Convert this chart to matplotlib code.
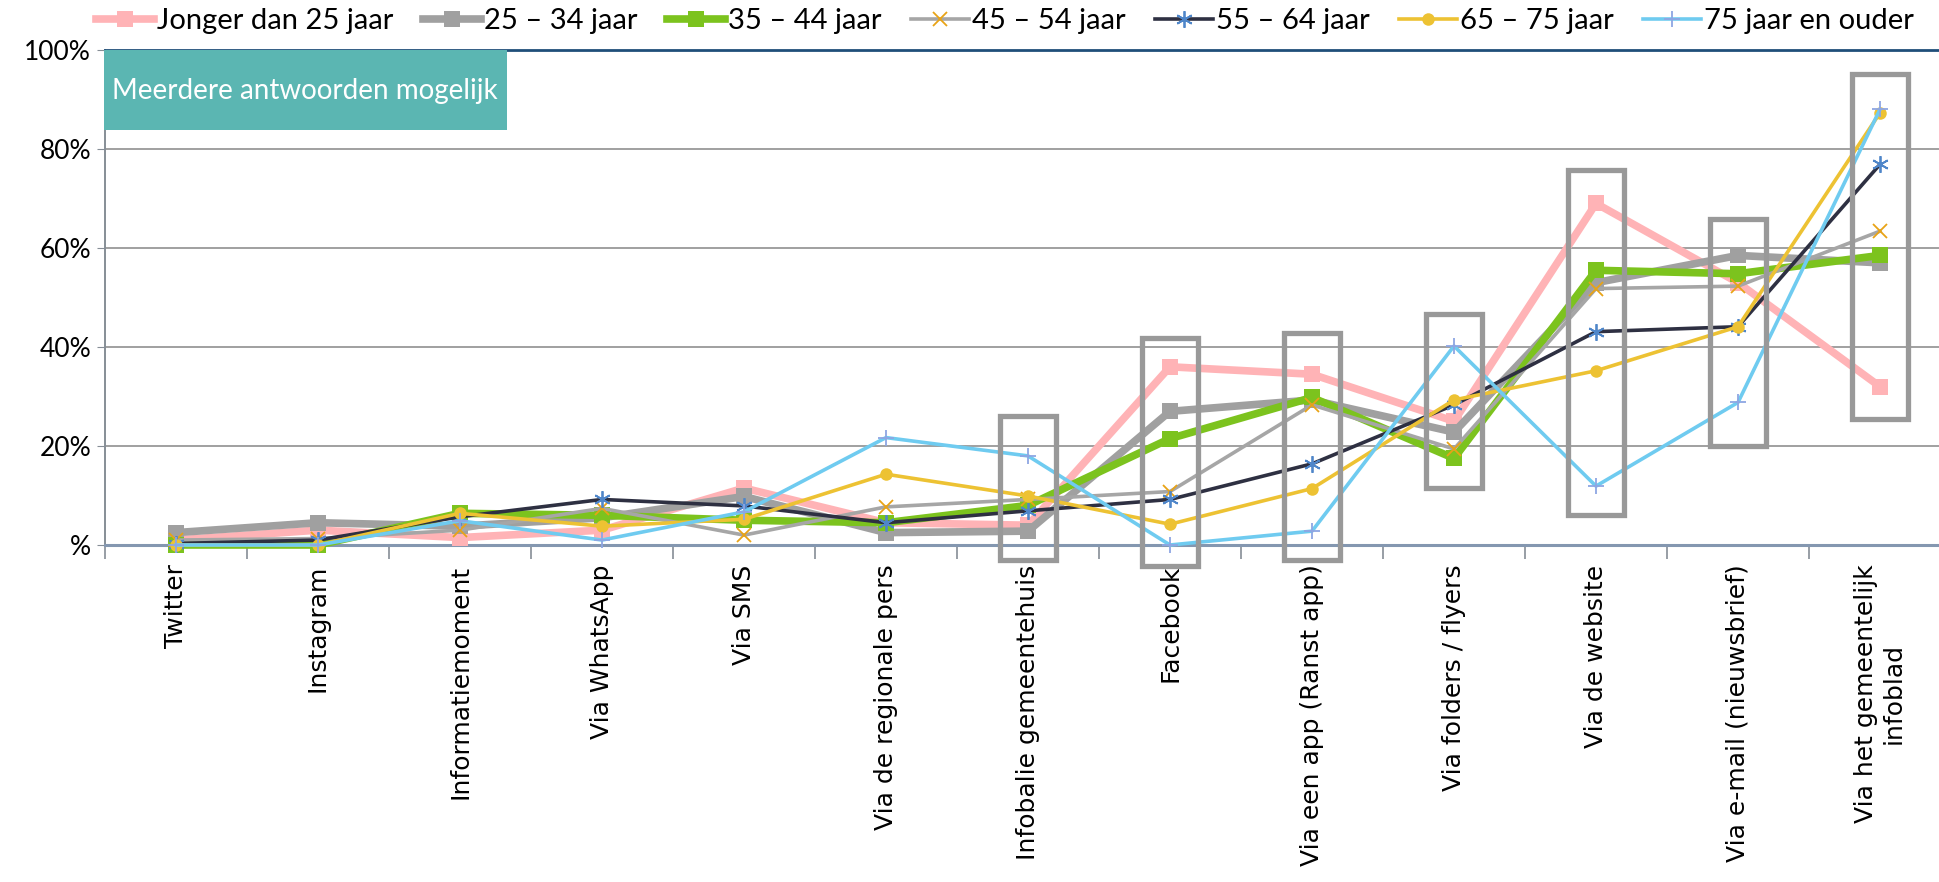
#!/usr/bin/env python3
"""
Informatiekanalen per leeftijdsgroep - lijngrafiek
"""
import numpy as np
import matplotlib
matplotlib.use("Agg")
import matplotlib.pyplot as plt
from matplotlib.patches import Rectangle

categories = ["Twitter", "Instagram", "Informatiemoment", "Via WhatsApp", "Via SMS",
              "Via de regionale pers", "Infobalie gemeentehuis", "Facebook",
              "Via een app (Ranst app)", "Via folders / flyers", "Via de website",
              "Via e-mail (nieuwsbrief)", "Via het gemeentelijk\ninfoblad"]

jonger_25 = [1.0, 3.0, 1.5, 3.0, 11.5, 4.5, 4.0, 36.0, 34.5, 25.0, 69.0, 53.0, 32.0]
j25_34 = [2.5, 4.5, 3.8, 5.5, 9.8, 2.5, 2.8, 27.0, 29.3, 22.8, 53.0, 58.5, 57.0]
j35_44 = [0.0, 0.0, 6.4, 6.0, 5.0, 4.5, 8.0, 21.5, 29.8, 17.5, 55.5, 54.8, 58.5]
j45_54 = [1.0, 1.3, 3.0, 7.4, 2.0, 7.7, 9.2, 10.8, 28.3, 19.4, 51.8, 52.3, 63.4]
j55_64 = [0.3, 1.0, 5.7, 9.2, 7.9, 4.5, 6.9, 9.2, 16.4, 28.3, 43.1, 44.1, 76.9]
j65_75 = [0.0, 0.0, 6.4, 3.8, 5.2, 14.3, 9.9, 4.2, 11.4, 29.3, 35.2, 44.1, 87.3]
j75_plus = [0.0, 0.0, 4.9, 1.0, 6.7, 21.7, 18.0, 0.0, 2.8, 40.2, 11.9, 28.8, 88.0]

series_names = ["Jonger dan 25 jaar", "25 – 34 jaar", "35 – 44 jaar", "45 – 54 jaar",
                "55 – 64 jaar", "65 – 75 jaar", "75 jaar en ouder"]

# highlight boxes: category index, top %, bottom %
box_idx = [6, 7, 8, 9, 10, 11, 12]
box_top = [26.0, 41.8, 42.8, 46.7, 75.7, 65.8, 95.2]
box_bottom = [-3.0, -4.2, -3.0, 11.6, 6.0, 19.9, 25.4]

y_ticks = [0, 20, 40, 60, 80, 100]
y_tick_labels = ["%", "20%", "40%", "60%", "80%", "100%"]

# Calibri-like narrow text where available
FONT_TXT = ["Liberation Sans Narrow", "Lato", "DejaVu Sans"]

fig = plt.figure(figsize=(19.39, 8.82), dpi=100, facecolor="white")
ax = fig.add_axes([105 / 1939, 1 - 545 / 882, 1846 / 1939, 495 / 882])
ax.set_facecolor("white")

x = np.arange(len(categories))

styles = [
    dict(color="#FFB3B6", lw=5.5, marker="s", ms=12, mfc="#FFB3B6", mec="#FFB3B6", mew=0),
    dict(color="#A0A0A0", lw=5.5, marker="s", ms=12, mfc="#A0A0A0", mec="#A0A0A0", mew=0),
    dict(color="#7CC31E", lw=5.5, marker="s", ms=12, mfc="#7CC31E", mec="#7CC31E", mew=0),
    dict(color="#A6A6A6", lw=2.6, marker="x", ms=10, mfc="none", mec="#E8A316", mew=1.3),
    dict(color="#2E3042", lw=2.6, marker=(6, 2, 0), ms=12, mfc="none", mec="#4F86C9", mew=1.3),
    dict(color="#EDC233", lw=2.6, marker="o", ms=9, mfc="#EDC233", mec="#EDC233", mew=0),
    dict(color="#6FCBF0", lw=2.6, marker="+", ms=12, mfc="none", mec="#8EA6E3", mew=1.3),
]
data = [jonger_25, j25_34, j35_44, j45_54, j55_64, j65_75, j75_plus]

for vals, name, st in zip(data, series_names, styles):
    ax.plot(x, vals, label=name, clip_on=False, zorder=3, **st)

# highlight boxes
for i, top, bot in zip(box_idx, box_top, box_bottom):
    w = 0.40
    ax.add_patch(Rectangle((i - w / 2, bot), w, top - bot, fill=False,
                           edgecolor="#999999", linewidth=3.8, clip_on=False, zorder=4))

ax.set_xlim(-0.5, len(categories) - 0.5)
ax.set_ylim(0, 100)

ax.set_yticks(y_ticks)
ax.set_yticklabels(y_tick_labels, fontsize=19, family=FONT_TXT)
ax.tick_params(axis="y", length=6, color="#868E96", pad=4)
ax.yaxis.grid(True, color="#A0A0A0", linewidth=1.4)
ax.set_axisbelow(True)

ax.set_xticks(x)
ax.set_xticklabels(categories, rotation=90, fontsize=18, family="DejaVu Sans",
                   va="top", ha="center", multialignment="center")
ax.tick_params(axis="x", length=0, pad=14)
ax.set_xticks(np.arange(-0.5, len(categories), 1), minor=True)
ax.tick_params(axis="x", which="minor", length=10, color="#868E96", width=1.2)

ax.spines["right"].set_visible(False)
ax.spines["left"].set_color("#868E96")
ax.spines["left"].set_linewidth(1.4)
ax.spines["bottom"].set_color("#8497B0")
ax.spines["bottom"].set_linewidth(2.2)
ax.spines["top"].set_color("#1F4E79")
ax.spines["top"].set_linewidth(2.0)

# teal note box
fig.patches.append(Rectangle((104 / 1939, 1 - 130 / 882), 403 / 1939, 80 / 882,
                             transform=fig.transFigure, facecolor="#5BB6B2",
                             edgecolor="none", zorder=5))
fig.text(305 / 1939, 1 - 91 / 882, "Meerdere antwoorden mogelijk", fontsize=20,
         family=FONT_TXT, color="white", va="center", ha="center", zorder=6)

fig.legend(loc="center left", bbox_to_anchor=(0.036, 1 - 21 / 882), ncol=7,
           frameon=False, prop={"family": FONT_TXT, "size": 21},
           handlelength=2.0, handletextpad=0.1, columnspacing=1.0)

fig.savefig("out.png", dpi=100, facecolor="white")
